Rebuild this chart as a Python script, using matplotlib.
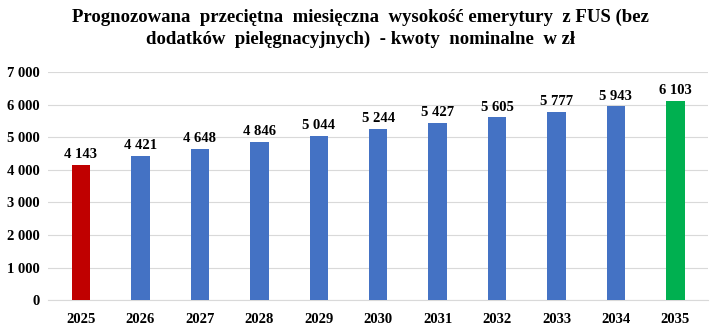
import matplotlib.pyplot as plt
from matplotlib.ticker import FuncFormatter

years = ['2025', '2026', '2027', '2028', '2029', '2030', '2031', '2032', '2033', '2034', '2035']
values = [4143, 4421, 4648, 4846, 5044, 5244, 5427, 5605, 5777, 5943, 6103]
colors = ['#C00000'] + ['#4472C4'] * 9 + ['#00B050']

plt.rcParams['font.family'] = ['Liberation Serif', 'DejaVu Serif']

def fmt(v):
    return f'{int(v):,}'.replace(',', ' ')

fig = plt.figure(figsize=(7.21, 3.32), dpi=100)
ax = fig.add_axes([0.067, 0.096, 0.915, 0.687])
x = range(len(years))
bars = ax.bar(x, values, width=0.31, color=colors, zorder=3)
for i, v in enumerate(values):
    ax.text(i, v + 120, fmt(v), ha='center', va='bottom', fontsize=10.5, fontweight='bold')

ax.set_ylim(0, 7000)
ax.set_xlim(-0.55, len(years) - 0.45)
ax.set_yticks(range(0, 7001, 1000))
ax.yaxis.set_major_formatter(FuncFormatter(lambda v, p: fmt(v)))
ax.set_xticks(list(x))
ax.set_xticklabels(years)
for lbl in ax.get_xticklabels() + ax.get_yticklabels():
    lbl.set_fontweight('bold')
    lbl.set_fontsize(10.5)
ax.tick_params(axis='x', length=0, pad=9)
ax.tick_params(axis='y', length=0, pad=6)
ax.grid(axis='y', color='#d9d9d9', linewidth=0.8, zorder=0)
for s in ['top', 'right', 'left']:
    ax.spines[s].set_visible(False)
ax.spines['bottom'].set_color('#d9d9d9')

fig.text(0.5, 0.975, 'Prognozowana  przeciętna  miesięczna  wysokość emerytury  z FUS (bez\n'
         'dodatków  pielęgnacyjnych)  - kwoty  nominalne  w zł',
         ha='center', va='top', fontsize=13.5, fontweight='bold', linespacing=1.35)

fig.savefig('out.png', dpi=100)
